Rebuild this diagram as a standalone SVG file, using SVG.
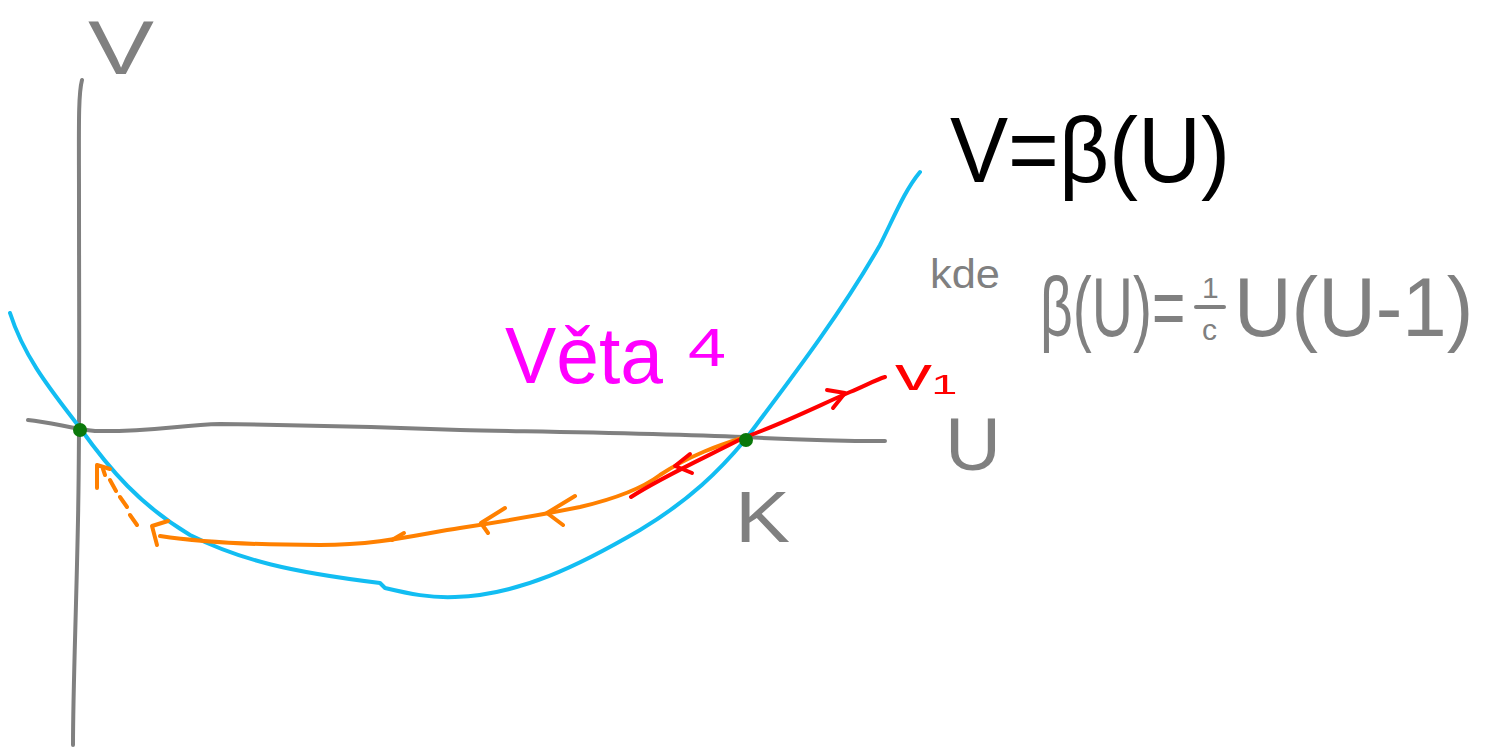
<svg xmlns="http://www.w3.org/2000/svg" width="1500" height="749" viewBox="0 0 1500 749">
<style>
.ln{fill:none;stroke-linecap:round;stroke-linejoin:round}
.ax{stroke:#808080;stroke-width:4}
.bl{stroke:#12bdf2;stroke-width:4}
.or{stroke:#ff8000;stroke-width:4}
.rd{stroke:#ff0000;stroke-width:4}
.t{font-family:"Liberation Sans",Arial,sans-serif}
</style>
<rect width="1500" height="749" fill="#ffffff"/>
<g id="axes">
<path class="ln ax" d="M82,80 C78,95 79,130 79,200 C79,320 80,420 78,520 C76,620 73,690 73,745"/>
<path class="ln ax" d="M28,420 C50,422 70,428 95,431 C150,432 180,425 220,424 C300,425 380,427 460,430 C560,432 650,433 745,437 C800,440 850,441 885,441"/>
</g>
<g id="curve">
<path class="ln bl" d="M10,313 C25,360 55,395 80,428 C110,470 140,505 190,535 C240,560 290,572 380,583 L385,588 C410,594 430,598 455,597 C520,595 580,565 640,530 C690,500 720,470 745,440 C790,380 840,315 880,245 C895,215 905,190 920,172"/>
</g>
<g id="connectors">
<path class="ln or" d="M745,437 C720,445 690,455 660,475 C640,490 610,500 580,507 C540,515 500,522 460,528 C420,534 380,545 320,545 C260,545 200,542 160,536"/>
<path class="ln or" d="M168,521 L152,526 L157,545"/>
<path class="ln or" d="M505,508 L481,523 L488,533"/>
<path class="ln or" d="M575,496 L547,513 L563,525"/>
<path class="ln or" d="M404,533 L392,540"/>
<path class="ln or" d="M137,525 L130,515 M127,507 L120,497 M116,491 L110,480 M105,475 L103,469"/>
<path class="ln or" d="M110,469 L97,465 L97,488"/>
<path class="ln rd" d="M631,497 C660,478 700,460 745,437 C780,425 820,405 850,392 C865,386 875,380 885,377"/>
<path class="ln rd" d="M690,454 L675,466 L692,473"/>
<path class="ln rd" d="M827,390 L845,393 L833,408"/>
</g>
<g id="points">
<circle cx="80" cy="430" r="7" fill="#0a780a"/>
<circle cx="746" cy="440" r="7" fill="#0a780a"/>
</g>
<g id="labels">
<text class="t" x="88" y="74" font-size="76" fill="#808080" textLength="66" lengthAdjust="spacingAndGlyphs">V</text>
<text class="t" x="945" y="470" font-size="74" fill="#808080" textLength="56" lengthAdjust="spacingAndGlyphs">U</text>
<text class="t" x="735" y="542" font-size="72" fill="#808080" textLength="55" lengthAdjust="spacingAndGlyphs">K</text>
<text class="t" x="895" y="390" font-size="46" fill="#ff0000" textLength="62" lengthAdjust="spacingAndGlyphs">v₁</text>
<text class="t" x="505" y="383" font-size="80" fill="#ff00ff" textLength="158" lengthAdjust="spacingAndGlyphs">Věta</text>
<text class="t" x="688" y="366" font-size="54" fill="#ff00ff" textLength="38" lengthAdjust="spacingAndGlyphs">4</text>
<text class="t" x="950" y="182" font-size="92" fill="#000000" textLength="280" lengthAdjust="spacingAndGlyphs">V=β(U)</text>
<text class="t" x="930" y="288" font-size="40" fill="#808080" textLength="70" lengthAdjust="spacingAndGlyphs">kde</text>
<path class="ln ax" d="M1196,307 L1224,307" stroke-width="3"/>
<text class="t" fill="#808080" font-size="84" transform="translate(1040,336) scale(0.68,1)">β(U)=</text>
<text class="t" fill="#808080" font-size="30" x="1202" y="298">1</text>
<text class="t" fill="#808080" font-size="30" x="1202" y="340">c</text>
<text class="t" fill="#808080" font-size="84" transform="translate(1234,336) scale(0.95,1)">U(U-1)</text>
</g>
</svg>
